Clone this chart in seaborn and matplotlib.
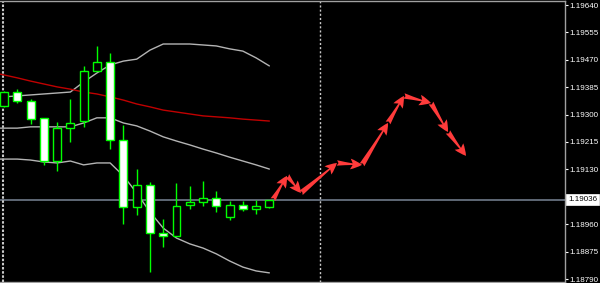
import numpy as np
import pandas as pd
import matplotlib
matplotlib.use("Agg")
import matplotlib.pyplot as plt
import matplotlib.transforms as mtransforms
import seaborn as sns

# ---------------- data ----------------
bar_idx = list(range(21))
opens  = [1.19327, 1.19370, 1.19342, 1.19290, 1.19156, 1.19258, 1.19280, 1.19435, 1.19463, 1.19221,
          1.19013, 1.19082, 1.18933, 1.18923, 1.19020, 1.19029, 1.19041, 1.18982, 1.19020, 1.19007, 1.19013]
highs  = [1.19373, 1.19379, 1.19348, 1.19290, 1.19277, 1.19348, 1.19451, 1.19513, 1.19491, 1.19268,
          1.19131, 1.19091, 1.18976, 1.19088, 1.19079, 1.19094, 1.19063, 1.19032, 1.19032, 1.19036, 1.19036]
lows   = [1.19324, 1.19336, 1.19271, 1.19144, 1.19125, 1.19215, 1.19262, 1.19435, 1.19193, 1.18961,
          1.18989, 1.18812, 1.18889, 1.18923, 1.19007, 1.19016, 1.18998, 1.18973, 1.19001, 1.18992, 1.19010]
closes = [1.19370, 1.19342, 1.19286, 1.19156, 1.19258, 1.19274, 1.19435, 1.19463, 1.19221, 1.19013,
          1.19082, 1.18933, 1.18923, 1.19016, 1.19029, 1.19041, 1.19016, 1.19020, 1.19007, 1.19016, 1.19036]

band_x = list(range(-1, 21))
upper_band = [1.19352, 1.19355, 1.19358, 1.19361, 1.19364, 1.19367, 1.19370, 1.19401, 1.19429, 1.19454, 1.19466,
              1.19472, 1.19500, 1.19519, 1.19519, 1.19519, 1.19516, 1.19513, 1.19504, 1.19497, 1.19476, 1.19451]
middle_band = [1.19258, 1.19258, 1.19258, 1.19262, 1.19262, 1.19262, 1.19262, 1.19274, 1.19290, 1.19290, 1.19274,
               1.19265, 1.19249, 1.19231, 1.19218, 1.19206, 1.19193, 1.19181, 1.19168, 1.19156, 1.19144, 1.19131]
lower_band = [1.19162, 1.19162, 1.19162, 1.19159, 1.19153, 1.19150, 1.19156, 1.19144, 1.19150, 1.19150, 1.19110,
              1.19057, 1.18998, 1.18948, 1.18917, 1.18899, 1.18886, 1.18868, 1.18846, 1.18827, 1.18815, 1.18809]
moving_avg = [1.19432, 1.19423, 1.19414, 1.19404, 1.19395, 1.19386, 1.19379, 1.19370, 1.19364, 1.19355, 1.19345,
              1.19333, 1.19324, 1.19314, 1.19308, 1.19302, 1.19296, 1.19293, 1.19290, 1.19286, 1.19283, 1.19280]

forecast_x = [20.27, 21.33, 22.38, 25.09, 26.98, 28.94, 30.14, 32.18, 33.46, 34.82]
forecast_y = [1.19036, 1.19110, 1.19057, 1.19150, 1.19144, 1.19274, 1.19358, 1.19336, 1.19246, 1.19172]

separators = [-0.08, 23.8]
current_price = 1.19036
tick_values = [1.19640, 1.19555, 1.19470, 1.19385, 1.19300, 1.19215, 1.19130, 1.18960, 1.18875, 1.18790]
tick_labels = ["1.19640", "1.19555", "1.19470", "1.19385", "1.19300", "1.19215", "1.19130",
               "1.18960", "1.18875", "1.18790"]

# ---------------- style ----------------
sns.set_theme(style="dark", rc={"axes.facecolor": "black", "figure.facecolor": "black"})
plt.rcParams["font.family"] = ["Liberation Sans", "DejaVu Sans"]

fig = plt.figure(figsize=(6.0, 2.83), dpi=100)
ax = fig.add_axes([0.0, 1 / 283, 565 / 600, 281.5 / 283])
ax.set_facecolor("black")

GREEN = "#00ff00"
df = pd.DataFrame({"x": bar_idx, "o": opens, "h": highs, "l": lows, "c": closes})

# bands and MA
sns.lineplot(x=band_x, y=upper_band, ax=ax, color="#b4b4b4", lw=1.0, zorder=2)
sns.lineplot(x=band_x, y=middle_band, ax=ax, color="#b4b4b4", lw=1.0, zorder=2)
sns.lineplot(x=band_x, y=lower_band, ax=ax, color="#b4b4b4", lw=1.0, zorder=2)
sns.lineplot(x=band_x, y=moving_avg, ax=ax, color="#c00000", lw=1.0, zorder=2)

# current price line
ax.axhline(current_price, color="#6f7a8a", lw=1.2, zorder=1)

# separators
ax.axvline(separators[0], color="#c8c8c8", lw=1.5, linestyle=(0, (1.2, 0.8)), zorder=1)
ax.axvline(separators[1], color="#c8c8c8", lw=1.0, linestyle=(0, (1.5, 1.5)), zorder=1)

# candles
ax.vlines(df["x"], df["l"], df["h"], color=GREEN, lw=1.0, zorder=3)
body_bottom = np.minimum(df["o"], df["c"])
body_h = np.abs(df["c"] - df["o"])
face = ["white" if c < o else "black" for o, c in zip(df["o"], df["c"])]
ax.bar(df["x"], body_h, bottom=body_bottom, width=0.6, color=face, edgecolor=GREEN, lw=1.0, zorder=4)

# forecast arrows
for i in range(len(forecast_x) - 1):
    ax.annotate("", xy=(forecast_x[i + 1], forecast_y[i + 1]), xytext=(forecast_x[i], forecast_y[i]),
                arrowprops=dict(arrowstyle="fancy,head_length=0.6,head_width=0.55,tail_width=0.28",
                                color="#ff3b3b", shrinkA=0, shrinkB=0, mutation_scale=14, lw=0),
                zorder=5)

# axes limits
k = 0.0085 / 274
ax.set_xlim(-0.301, 42.28)
ax.set_ylim(1.19640 - 277 * k, 1.19640 + 4.5 * k)
ax.grid(False)

ax.spines["left"].set_visible(False)
for side in ["top", "bottom", "right"]:
    ax.spines[side].set_visible(True)
    ax.spines[side].set_color("#a0a0a0")
    ax.spines[side].set_linewidth(1.0)

ax.set_xticks([])
ax.yaxis.tick_right()
ax.set_yticks(tick_values)
ax.set_yticklabels(tick_labels)
ax.tick_params(axis="y", which="both", direction="out", length=2, width=0.8, colors="white",
               labelsize=5.8, pad=1.5, right=True, left=False, labelright=True, labelleft=False)
for lbl in ax.get_yticklabels():
    lbl.set_color("white")

trans = mtransforms.blended_transform_factory(ax.transAxes, ax.transData)
ax.text(1.0 + 3 / 565, current_price, "1.19036", transform=trans, fontsize=5.8, color="black",
        va="center", ha="left",
        bbox=dict(boxstyle="square,pad=0.25", facecolor="white", edgecolor="white", lw=0.5))

fig.savefig("out.png", dpi=100, facecolor="black")
